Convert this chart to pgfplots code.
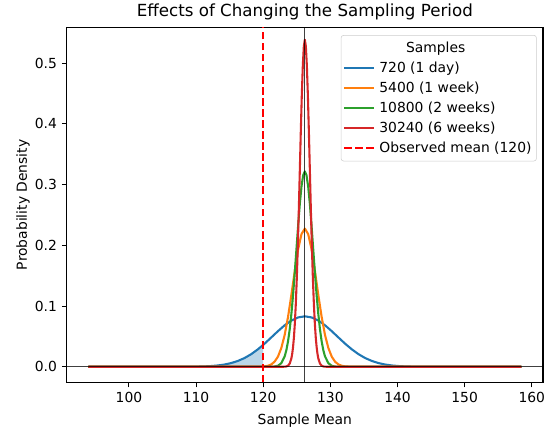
\documentclass[border=0pt]{standalone}
\usepackage{pgfplots}
\pgfplotsset{compat=1.18}
\usepackage{fontspec}
\setmainfont{DejaVu Sans}
\definecolor{tabblue}{HTML}{1F77B4}
\definecolor{taborange}{HTML}{FF7F0E}
\definecolor{tabgreen}{HTML}{2CA02C}
\definecolor{tabred}{HTML}{D62728}
\newcommand{\fs}{\fontsize{10.4pt}{12.5pt}\selectfont}
\begin{document}
\fs
\begin{tikzpicture}
\begin{axis}[
  at={(0,0)}, anchor=south west, scale only axis,
  width=357.2pt, height=266.25pt,
  xmin=90.73, xmax=161.67, ymin=-0.0257, ymax=0.559,
  xtick={100,110,120,130,140,150,160},
  ytick={0,0.1,0.2,0.3,0.4,0.5},
  /pgf/number format/assume math mode=true,
  yticklabel style={/pgf/number format/.cd, fixed, fixed zerofill, precision=1},
  xticklabel style={/pgf/number format/.cd, fixed, precision=0},
  tick align=outside, xtick pos=bottom, ytick pos=left,
  major tick length=3.65pt,
  tick style={black, line width=0.8pt},
  axis line style={line width=0.8pt},
  every tick label/.append style={font=\fs},
  title={Effects of Changing the Sampling Period},
  xlabel={Sample Mean}, ylabel={Probability Density},
  every axis title/.style={at={(axis description cs:0.5,1)}, anchor=center, yshift=11.5pt, font=\fontsize{12.5pt}{15pt}\selectfont},
  every axis x label/.style={at={(axis description cs:0.5,0)}, anchor=center, yshift=-28.5pt, font=\fs},
  every axis y label/.style={at={(axis description cs:0,0.5)}, anchor=center, rotate=90, yshift=32.8pt, font=\fs},
  legend style={at={(1,1)}, anchor=north east, xshift=-4.7pt, yshift=-5.8pt,
    draw=black!20, rounded corners=2pt, fill=white, font=\fs, row sep=1.5pt,
    column sep=1.5pt, inner xsep=1.7pt, inner ysep=3pt},
  legend cell align=left,
  legend image code/.code={\draw[#1] (0pt,0pt) -- (22pt,0pt);},
]
\addlegendimage{empty legend}
\addlegendentry{\hspace{20pt}Samples}

% shaded tail of the 720 curve below 120
\addplot[draw=none, fill=tabblue, fill opacity=0.3, forget plot] coordinates {
(93.95,0) (106.2,0.00001) (108.2,0.00007) (110.2,0.00032) (111.2,0.00063)
(112.2,0.00118) (113.2,0.00212) (114.2,0.00365) (115.2,0.00602) (116.2,0.00949)
(117.2,0.0143) (118.2,0.0207) (119.2,0.0287) (120.0,0.0361) (120.0,0)
} -- cycle;

\addplot[tabblue, line width=1.56pt, line join=round] coordinates {
(93.95,0) (106.2,0.00001) (108.2,0.00007) (110.2,0.00032) (111.2,0.00063)
(112.2,0.00118) (113.2,0.00212) (114.2,0.00365) (115.2,0.00602) (116.2,0.00949)
(117.2,0.0143) (118.2,0.0207) (119.2,0.0287) (120.2,0.0380) (121.2,0.0483)
(122.2,0.0587) (123.2,0.0684) (124.2,0.0762) (125.2,0.0813) (126.2,0.0831)
(127.2,0.0813) (128.2,0.0762) (129.2,0.0684) (130.2,0.0587) (131.2,0.0483)
(132.2,0.0380) (133.2,0.0287) (134.2,0.0207) (135.2,0.0143) (136.2,0.00949)
(137.2,0.00602) (138.2,0.00365) (139.2,0.00212) (140.2,0.00118) (141.2,0.00063)
(142.2,0.00032) (144.2,0.00007) (146.2,0.00001) (158.45,0)
};
\addlegendentry{720 (1 day)}

\addplot[taborange, line width=1.56pt, line join=round] coordinates {
(93.95,0) (118.2,0) (119.2,0.00008) (120.2,0.00065) (120.7,0.00165) (121.2,0.00389)
(121.7,0.00843) (122.2,0.01685) (122.7,0.0310) (123.2,0.0526) (123.7,0.0823)
(124.2,0.1187) (124.7,0.1578) (125.2,0.1934) (125.7,0.2185) (126.2,0.2276)
(126.7,0.2185) (127.2,0.1934) (127.7,0.1578) (128.2,0.1187) (128.7,0.0823)
(129.2,0.0526) (129.7,0.0310) (130.2,0.01685) (130.7,0.00843) (131.2,0.00389)
(131.7,0.00165) (132.2,0.00065) (133.2,0.00008) (134.2,0) (158.45,0)
};
\addlegendentry{5400 (1 week)}

\addplot[tabgreen, line width=1.56pt, line join=round] coordinates {
(93.95,0) (120.2,0) (121.2,0.00009) (121.7,0.00044) (122.2,0.00176) (122.7,0.00597)
(123.2,0.01719) (123.45,0.02745) (123.7,0.0421) (123.95,0.0619) (124.2,0.0875)
(124.45,0.1188) (124.7,0.1547) (124.95,0.1935) (125.2,0.2324) (125.45,0.2680)
(125.7,0.2966) (125.95,0.3153) (126.2,0.3218) (126.45,0.3153) (126.7,0.2966)
(126.95,0.2680) (127.2,0.2324) (127.45,0.1935) (127.7,0.1547) (127.95,0.1188)
(128.2,0.0875) (128.45,0.0619) (128.7,0.0421) (128.95,0.02745) (129.2,0.01719)
(129.7,0.00597) (130.2,0.00176) (130.7,0.00044) (131.2,0.00009) (132.2,0) (158.45,0)
};
\addlegendentry{10800 (2 weeks)}

\addplot[tabred, line width=1.56pt, line join=round] coordinates {
(93.95,0) (122.2,0) (122.7,0.00001) (123.2,0.00015) (123.45,0.00055) (123.7,0.00181)
(123.95,0.00534) (124.2,0.01406) (124.325,0.02186) (124.45,0.0330) (124.575,0.0485)
(124.7,0.0693) (124.85,0.1023) (125.0,0.1450) (125.15,0.1972) (125.3,0.2575)
(125.45,0.3226) (125.6,0.3880) (125.75,0.4478) (125.9,0.4962) (126.05,0.5277)
(126.2,0.5386) (126.35,0.5277) (126.5,0.4962) (126.65,0.4478) (126.8,0.3880)
(126.95,0.3226) (127.1,0.2575) (127.25,0.1972) (127.4,0.1450) (127.55,0.1023)
(127.7,0.0693) (127.825,0.0485) (127.95,0.0330) (128.075,0.02186) (128.2,0.01406)
(128.45,0.00534) (128.7,0.00181) (128.95,0.00055) (129.2,0.00015) (129.7,0.00001)
(130.2,0) (158.45,0)
};
\addlegendentry{30240 (6 weeks)}

% reference lines
\addplot[black, line width=0.8pt, opacity=0.75, forget plot] coordinates {(90.73,0) (161.67,0)};
\addplot[black, line width=0.8pt, opacity=0.75, forget plot] coordinates {(126.2,-0.0257) (126.2,0.559)};

\addplot[red, line width=1.56pt, dash pattern=on 5.8pt off 2.5pt] coordinates {(120,-0.0257) (120,0.559)};
\addlegendentry{Observed mean (120)}
\end{axis}
\pgfresetboundingbox
\path[use as bounding box] (-50.0pt,-32.8pt) rectangle (361.7pt,286.75pt);
\end{tikzpicture}
\end{document}
